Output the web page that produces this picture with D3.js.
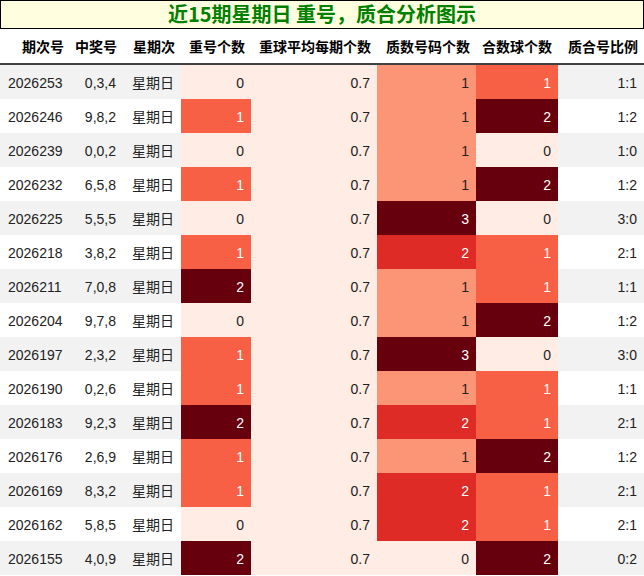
<!DOCTYPE html><html><head><meta charset="utf-8"><script src="https://cdn.jsdelivr.net/npm/d3@7"></script>
<style>body{margin:0;background:#fff;font-family:"Liberation Sans","Noto Sans CJK SC",sans-serif}</style></head><body><svg id="c" width="644" height="576"></svg>
<script>
const issues=["2026253","2026246","2026239","2026232","2026225","2026218","2026211","2026204","2026197","2026190","2026183","2026176","2026169","2026162","2026155"];
const draws=["0,3,4","9,8,2","0,0,2","6,5,8","5,5,5","3,8,2","7,0,8","9,7,8","2,3,2","0,2,6","9,2,3","2,6,9","8,3,2","5,8,5","4,0,9"];
const repeatCnt=[0,1,0,1,0,1,2,0,1,1,2,1,1,0,2];
const avgRepeat=[0.7,0.7,0.7,0.7,0.7,0.7,0.7,0.7,0.7,0.7,0.7,0.7,0.7,0.7,0.7];
const primeCnt=[1,1,1,1,3,2,1,1,3,1,2,1,2,2,0];
const compCnt=[1,2,0,2,0,1,1,2,0,1,1,2,1,1,2];
const ratio=["1:1","1:2","1:0","1:2","3:0","2:1","1:1","1:2","3:0","1:1","2:1","1:2","2:1","2:1","0:2"];
const headers=["期次号","中奖号","星期次","重号个数","重球平均每期个数","质数号码个数","合数球个数","质合号比例"];
const edges=[0,70,123,181,251,377,476,558,644];
const svg=d3.select("#c");
svg.append("rect").attr("x",0.5).attr("y",0.5).attr("width",643).attr("height",28).attr("fill","#ffffe0").attr("stroke","#000");
svg.append("text").attr("x",322).attr("y",22).attr("text-anchor","middle").attr("fill","#008000").attr("font-size",20).attr("font-weight","bold").attr("font-family","'Noto Sans CJK SC',sans-serif").text("近15期星期日 重号，质合分析图示");
const y=d3.scaleBand().domain(d3.range(15)).range([65,575]);
headers.forEach((h,i)=>svg.append("text").attr("x",edges[i+1]-6).attr("y",52).attr("text-anchor","end").attr("font-size",14).attr("font-weight","bold").attr("font-family","'Noto Sans CJK SC',sans-serif").text(h));
svg.append("line").attr("x1",0).attr("x2",644).attr("y1",64).attr("y2",64).attr("stroke","#000").attr("stroke-width",1.5);
const cols=[issues,draws,issues.map(()=>"星期日"),repeatCnt,avgRepeat,primeCnt,compCnt,ratio];
const heat={3:repeatCnt,4:avgRepeat,5:primeCnt,6:compCnt};
const scales={};
for(const k in heat){const a=heat[k];const mn=d3.min(a),mx=d3.max(a);scales[k]=v=>mx===mn?0:(v-mn)/(mx-mn);}
d3.range(15).forEach(r=>{
  svg.append("rect").attr("x",0).attr("y",y(r)).attr("width",644).attr("height",y.bandwidth()).attr("fill",r%2===0?"#f2f2f2":"#fff");
  cols.forEach((c,i)=>{
    let tc="#222";
    if(heat[i]){const t=scales[i](c[r]);const f=d3.interpolateReds(0.05+t*0.95);
      svg.append("rect").attr("x",edges[i]).attr("y",y(r)).attr("width",edges[i+1]-edges[i]).attr("height",y.bandwidth()).attr("fill",f);
      if(t>0.45)tc="#fff";}
    const isLeft=i===0;
    svg.append("text").attr("x",isLeft?8:edges[i+1]-7).attr("y",y(r)+y.bandwidth()/2+6).attr("text-anchor",isLeft?"start":"end").attr("font-size",14).attr("fill",tc).attr("font-family",i===2?"'Noto Sans CJK SC',sans-serif":"'Liberation Sans',sans-serif").text(c[r]);
  });
});
</script></body></html>
